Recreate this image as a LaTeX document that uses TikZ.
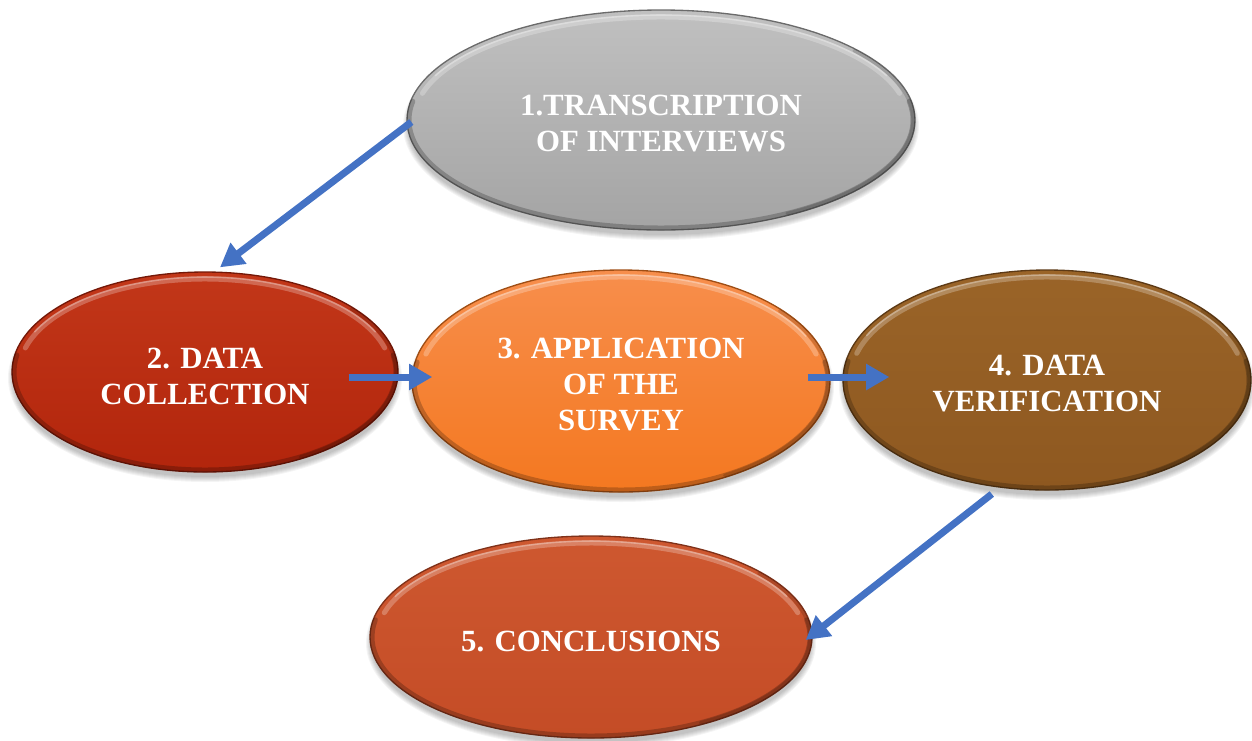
\documentclass[tikz,border=0pt]{standalone}
\usepackage{fontspec}
\setmainfont{Liberation Serif}
\usetikzlibrary{shapes.geometric,arrows.meta,calc}

\definecolor{flowblue}{HTML}{4472C4}
\definecolor{grayTop}{HTML}{C0C0C0}
\definecolor{grayBot}{HTML}{A4A4A4}
\definecolor{redTop}{HTML}{C23719}
\definecolor{redBot}{HTML}{B2250C}
\definecolor{orTop}{HTML}{F78E4C}
\definecolor{orBot}{HTML}{F47820}
\definecolor{brTop}{HTML}{9A6428}
\definecolor{brBot}{HTML}{8E5820}
\definecolor{coTop}{HTML}{CE5830}
\definecolor{coBot}{HTML}{C44C26}

\tikzset{
  disc/.style={ellipse, inner sep=0pt, line width=0.8pt},
  caption/.style={align=center, text=white, inner sep=0pt,
    font=\bfseries\fontsize{18.5pt}{21.6pt}\selectfont},
  flow/.style={draw=flowblue, line width=4.2pt,
    -{Triangle[length=14pt,width=15pt]}},
}

% #1 name, #2 x, #3 y, #4 x radius, #5 y radius, #6 top colour, #7 bottom colour, #8 label
\newcommand{\bubble}[8]{%
  % soft drop shadow under the disc
  \foreach \k in {0,...,5}{%
    \fill[black,opacity=0.045] (#2,#3+6) ellipse [x radius={#4+\k-1}, y radius={#5+\k-1}];
  }
  \node[disc, minimum width={2*#4*0.6pt}, minimum height={2*#5*0.6pt},
        top color=#6, bottom color=#7, draw=#7!65!black] (#1) at (#2,#3) {};
  % bevelled rim: light band near the top, dark band along the bottom
  \begin{scope}[shift={(#1.center)}]
    \draw[white,opacity=0.25,line width=3pt,line cap=round]
      (195:{#4-7} and {#5-7}) arc[start angle=195,end angle=345,x radius={#4-7},y radius={#5-7}];
    \draw[white,opacity=0.30,line width=1pt,line cap=round]
      (205:{#4-5} and {#5-5}) arc[start angle=205,end angle=335,x radius={#4-5},y radius={#5-5}];
    \draw[black,opacity=0.22,line width=3pt,line cap=round]
      (-10:{#4-2} and {#5-2}) arc[start angle=-10,end angle=190,x radius={#4-2},y radius={#5-2}];
    \draw[black,opacity=0.15,line width=2pt,line cap=round]
      (-40:{#4-2} and {#5-2}) arc[start angle=-40,end angle=60,x radius={#4-2},y radius={#5-2}];
  \end{scope}
  \node[caption] (#1-text) at ($(#1.center)+(0,4)$) {#8};
}

\begin{document}
\begin{tikzpicture}[x=0.6pt,y=-0.6pt]
  \useasboundingbox (0,0) rectangle (1252,740);

  \bubble{g}{661}{120}{254}{110}{grayTop}{grayBot}{1.TRANSCRIPTION\\OF INTERVIEWS}
  \bubble{r}{205}{372}{193}{100}{redTop}{redBot}{2. DATA\\COLLECTION}
  \bubble{o}{621}{381}{209}{111}{orTop}{orBot}{3. APPLICATION\\OF THE\\SURVEY}
  \bubble{b}{1047}{380}{204}{110}{brTop}{brBot}{4. DATA\\VERIFICATION}
  \bubble{c}{591}{637}{221}{101}{coTop}{coBot}{5. CONCLUSIONS}

  \draw[flow] ($(g.west)+(5,2)$) -- ($(r.north)+(15,-4)$);
  \draw[flow] ($(r.east)+(-50,5)$) -- ($(o.west)+(21,-4)$);
  \draw[flow] ($(o.east)+(-23,-4)$) -- ($(b.west)+(47,-3)$);
  \draw[flow] ($(b.244)+(-3,7)$) -- ($(c.east)+(-7,3)$);
\end{tikzpicture}
\end{document}
